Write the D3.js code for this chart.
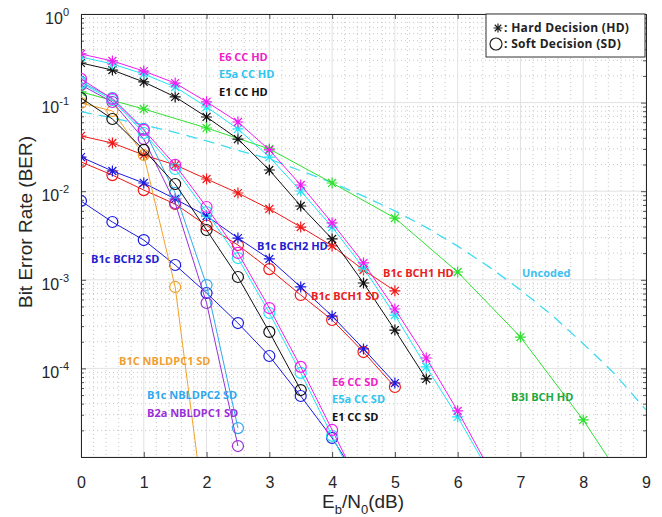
<!DOCTYPE html>
<html>
<head>
<meta charset="utf-8">
<script src="https://cdn.jsdelivr.net/npm/d3@7"></script>
<style>
  body { margin: 0; background: #fff; }
  svg { display: block; }
</style>
</head>
<body>
<div id="chart"></div>
<script>
// BER values (Eb/N0 in dB on x)
// last point of some series lies below 1e-5: it only gives the line its tail
const xE6HD = [0, 0.5, 1, 1.5, 2, 2.5, 3, 3.5, 4, 4.5, 5, 5.5, 6, 6.5];
const berE6HD = [0.354, 0.295, 0.227, 0.166, 0.102, 0.0604, 0.0292, 0.01175, 0.00438, 0.00155, 4.68e-4, 1.31e-4, 3.31e-5, 7.4e-6];

const xE5aHD = [0, 0.5, 1, 1.5, 2, 2.5, 3, 3.5, 4, 4.5, 5, 5.5, 6, 6.5];
const berE5aHD = [0.327, 0.273, 0.210, 0.150, 0.0892, 0.0504, 0.0243, 0.01005, 0.00394, 0.00136, 4.0e-4, 1.04e-4, 2.83e-5, 6.8e-6];

const xE1HD = [0, 0.5, 1, 1.5, 2, 2.5, 3, 3.5, 4, 4.5, 5, 5.5];
const berE1HD = [0.280, 0.233, 0.171, 0.116, 0.0688, 0.0388, 0.01735, 0.00681, 0.00289, 9.2e-4, 2.71e-4, 7.6e-5];

const xB3I = [0, 1, 2, 3, 4, 5, 6, 7, 8, 9];
const berB3I = [0.132, 0.0847, 0.0517, 0.0300, 0.01238, 0.00498, 0.001225, 2.26e-4, 2.62e-5, 2.2e-6];

const xUncoded = [0, 0.5, 1, 1.5, 2, 2.5, 3, 3.5, 4, 4.5, 5, 5.5, 6, 6.5, 7, 7.5, 8, 8.5, 9];
const berUncoded = [0.079, 0.067, 0.056, 0.046, 0.037, 0.029, 0.023, 0.017, 0.0125, 0.0088, 0.006, 0.0039, 0.0024, 0.0014, 7.7e-4, 4.0e-4, 1.9e-4, 8.7e-5, 3.4e-5];

const xBCH1HD = [0, 0.5, 1, 1.5, 2, 2.5, 3, 3.5, 4, 4.5, 5];
const berBCH1HD = [0.0420, 0.0350, 0.0256, 0.0198, 0.01373, 0.00954, 0.0063, 0.00394, 0.00241, 0.00129, 7.5e-4];

const xBCH1SD = [0, 0.5, 1, 1.5, 2, 2.5, 3, 3.5, 4, 4.5, 5];
const berBCH1SD = [0.0214, 0.0152, 0.0103, 0.00717, 0.0041, 0.00247, 0.00132, 6.74e-4, 3.52e-4, 1.53e-4, 6.17e-5];

const xBCH2HD = [0, 0.5, 1, 1.5, 2, 2.5, 3, 3.5, 4, 4.5, 5];
const berBCH2HD = [0.0243, 0.0169, 0.01238, 0.00817, 0.00525, 0.00296, 0.00172, 8.3e-4, 3.9e-4, 1.66e-4, 6.84e-5];

const xBCH2SD = [0, 0.5, 1, 1.5, 2, 2.5, 3, 3.5, 4, 4.5];
const berBCH2SD = [0.00775, 0.00449, 0.00281, 0.00147, 7.1e-4, 3.25e-4, 1.38e-4, 4.88e-5, 1.64e-5, 4.5e-6];

const xB1CNB1 = [0, 0.5, 1, 1.5, 2];
const berB1CNB1 = [0.099, 0.0804, 0.0256, 8.3e-4, 1.5e-6];

const xB1cNB2 = [0, 0.5, 1, 1.5, 2, 2.5];
const berB1cNB2 = [0.171, 0.1127, 0.0504, 0.00954, 8.73e-4, 2.12e-5];

const xB2aNB1 = [0, 0.5, 1, 1.5, 2, 2.5];
const berB2aNB1 = [0.158, 0.1016, 0.0388, 0.00736, 5.47e-4, 1.33e-5];

const xE6SD = [0, 0.5, 1, 1.5, 2, 2.5, 3, 3.5, 4, 4.5];
const berE6SD = [0.185, 0.110, 0.0491, 0.0198, 0.00663, 0.00201, 4.8e-4, 1.04e-4, 2.02e-5, 3.9e-6];

const xE5aSD = [0, 0.5, 1, 1.5, 2, 2.5, 3, 3.5, 4, 4.5];
const berE5aSD = [0.166, 0.107, 0.0454, 0.0178, 0.00582, 0.00176, 4.22e-4, 8.9e-5, 1.73e-5, 3.3e-6];

const xE1SD = [0, 0.5, 1, 1.5, 2, 2.5, 3, 3.5];
const berE1SD = [0.1127, 0.0653, 0.0292, 0.01206, 0.00365, 0.001076, 2.58e-4, 5.7e-5];

const xTicks = [0, 1, 2, 3, 4, 5, 6, 7, 8, 9];
const yTickExps = [0, -1, -2, -3, -4, -5];
const yLabelExps = [0, -1, -2, -3, -4];

// settings for the chart
const width = 662;
const height = 517;
const plot = { left: 81, right: 646, top: 14, bottom: 457 };

const axisColor = "#262626";
const fontMain = "Arial, 'Liberation Sans', sans-serif";
const fontLabel = "'Open Sans', sans-serif";

// series: data arrays + how they look (drawn in this order)
const series = [
    { x: xUncoded, y: berUncoded, color: "#3fdcf0", marker: "none", dash: "11,7" },
    { x: xB3I, y: berB3I, color: "#2ee02e", marker: "star" },
    { x: xBCH1HD, y: berBCH1HD, color: "#f01818", marker: "star" },
    { x: xBCH1SD, y: berBCH1SD, color: "#f01818", marker: "circle" },
    { x: xBCH2HD, y: berBCH2HD, color: "#1a1ae0", marker: "star" },
    { x: xBCH2SD, y: berBCH2SD, color: "#1a1ae0", marker: "circle" },
    { x: xB1CNB1, y: berB1CNB1, color: "#f2a22a", marker: "circle" },
    { x: xB1cNB2, y: berB1cNB2, color: "#2fa8ee", marker: "circle" },
    { x: xB2aNB1, y: berB2aNB1, color: "#9a30d8", marker: "circle" },
    { x: xE1SD, y: berE1SD, color: "#111111", marker: "circle" },
    { x: xE5aSD, y: berE5aSD, color: "#22e4f4", marker: "circle" },
    { x: xE6SD, y: berE6SD, color: "#f01cf0", marker: "circle" },
    { x: xE1HD, y: berE1HD, color: "#111111", marker: "star" },
    { x: xE5aHD, y: berE5aHD, color: "#22e4f4", marker: "star" },
    { x: xE6HD, y: berE6HD, color: "#f01cf0", marker: "star" }
];

// curve labels [text, colour, left x, baseline y]
const labels = [
    ["E6 CC HD", "#f020c8", 219, 61],
    ["E5a CC HD", "#30c4f0", 219, 78],
    ["E1 CC HD", "#111111", 219, 96],
    ["B1c BCH2 HD", "#2020d0", 257, 250],
    ["B1c BCH1 HD", "#e82020", 383, 277],
    ["Uncoded", "#40c0f0", 522, 277],
    ["B1c BCH1 SD", "#e82020", 311, 300],
    ["B1c BCH2 SD", "#2020d0", 91, 263],
    ["B3I BCH HD", "#20a840", 511, 401],
    ["B1C NBLDPC1 SD", "#f0a030", 119, 365],
    ["E6 CC SD", "#f020c8", 332, 386],
    ["B1c NBLDPC2 SD", "#30a8ee", 147, 399],
    ["E5a CC SD", "#30c4f0", 332, 403],
    ["B2a NBLDPC1 SD", "#9a30d8", 147, 417],
    ["E1 CC SD", "#111111", 332, 421]
];

const svg = d3.select("#chart")
    .append("svg")
    .attr("width", width)
    .attr("height", height);

svg.append("rect")
    .attr("width", width)
    .attr("height", height)
    .attr("fill", "#fff");

const xScale = d3.scaleLinear()
    .domain([0, 9])
    .range([plot.left, plot.right]);

const yScale = d3.scaleLog()
    .domain([1e-5, 1])
    .range([plot.bottom, plot.top]);

// grid: minor first (dotted), then major (solid)
const gridGroup = svg.append("g");

const xMinor = d3.range(0, 9.001, 0.2).filter(v => Math.abs(v - Math.round(v)) > 1e-6);
gridGroup.selectAll(".xminor")
    .data(xMinor)
    .enter()
    .append("line")
    .attr("x1", d => xScale(d))
    .attr("x2", d => xScale(d))
    .attr("y1", plot.top)
    .attr("y2", plot.bottom)
    .attr("stroke", "#c8c8c8")
    .attr("stroke-width", 1)
    .attr("stroke-dasharray", "1,3");

const yMinor = [];
for (let e = -5; e < 0; e++) {
    for (let k = 2; k <= 9; k++) yMinor.push(k * Math.pow(10, e));
}
gridGroup.selectAll(".yminor")
    .data(yMinor)
    .enter()
    .append("line")
    .attr("x1", plot.left)
    .attr("x2", plot.right)
    .attr("y1", d => yScale(d))
    .attr("y2", d => yScale(d))
    .attr("stroke", "#c8c8c8")
    .attr("stroke-width", 1)
    .attr("stroke-dasharray", "1,3");

gridGroup.selectAll(".xmajor")
    .data(xTicks)
    .enter()
    .append("line")
    .attr("x1", d => xScale(d))
    .attr("x2", d => xScale(d))
    .attr("y1", plot.top)
    .attr("y2", plot.bottom)
    .attr("stroke", "#e2e2e2")
    .attr("stroke-width", 1);

gridGroup.selectAll(".ymajor")
    .data(yTickExps)
    .enter()
    .append("line")
    .attr("x1", plot.left)
    .attr("x2", plot.right)
    .attr("y1", d => yScale(Math.pow(10, d)))
    .attr("y2", d => yScale(Math.pow(10, d)))
    .attr("stroke", "#e2e2e2")
    .attr("stroke-width", 1);

// axes: ticks inside, mirrored on top and right
const bottomAxis = d3.axisBottom(xScale).tickValues(xTicks).tickSizeInner(-5).tickSizeOuter(0).tickFormat(d3.format("d"));
const topAxis = d3.axisTop(xScale).tickValues(xTicks).tickSizeInner(-5).tickSizeOuter(0).tickFormat("");
const yMajorVals = yTickExps.map(e => Math.pow(10, e));
const leftAxis = d3.axisLeft(yScale).tickValues(yMajorVals).tickSizeInner(-5).tickSizeOuter(0).tickFormat("");
const rightAxis = d3.axisRight(yScale).tickValues(yMajorVals).tickSizeInner(-5).tickSizeOuter(0).tickFormat("");
const leftMinor = d3.axisLeft(yScale).tickValues(yMinor).tickSizeInner(-3).tickSizeOuter(0).tickFormat("");
const rightMinor = d3.axisRight(yScale).tickValues(yMinor).tickSizeInner(-3).tickSizeOuter(0).tickFormat("");

function styleAxis(g) {
    g.select(".domain").attr("stroke", axisColor).attr("stroke-width", 1);
    g.selectAll(".tick line").attr("stroke", axisColor).attr("stroke-width", 0.8);
}

const xAxisG = svg.append("g")
    .attr("transform", `translate(0, ${plot.bottom})`)
    .call(bottomAxis)
    .call(styleAxis);
xAxisG.selectAll(".tick text")
    .attr("y", 20)
    .attr("font-family", fontMain)
    .attr("font-size", 16)
    .attr("fill", axisColor);

svg.append("g").attr("transform", `translate(0, ${plot.top})`).call(topAxis).call(styleAxis);
svg.append("g").attr("transform", `translate(${plot.left}, 0)`).call(leftAxis).call(styleAxis);
svg.append("g").attr("transform", `translate(${plot.right}, 0)`).call(rightAxis).call(styleAxis);
svg.append("g").attr("transform", `translate(${plot.left}, 0)`).call(leftMinor).call(styleAxis);
svg.append("g").attr("transform", `translate(${plot.right}, 0)`).call(rightMinor).call(styleAxis);

// y tick labels as 10 with a superscript exponent
const yLabels = svg.append("g");
yLabelExps.forEach(e => {
    const t = yLabels.append("text")
        .attr("x", 69)
        .attr("y", yScale(Math.pow(10, e)) + 10)
        .attr("text-anchor", "end")
        .attr("font-family", fontMain)
        .attr("font-size", 16)
        .attr("fill", axisColor);
    t.append("tspan").text("10");
    t.append("tspan")
        .attr("font-size", 11)
        .attr("dy", -8)
        .text(e === 0 ? "0" : "-" + Math.abs(e));
});

// axis titles
const xTitle = svg.append("text")
    .attr("x", 363)
    .attr("y", 508)
    .attr("text-anchor", "middle")
    .attr("font-family", fontMain)
    .attr("font-size", 19)
    .attr("fill", axisColor);
xTitle.append("tspan").text("E");
xTitle.append("tspan").attr("font-size", 13).attr("dy", 6).text("b");
xTitle.append("tspan").attr("dy", -6).text("/N");
xTitle.append("tspan").attr("font-size", 13).attr("dy", 6).text("0");
xTitle.append("tspan").attr("dy", -6).text("(dB)");

svg.append("text")
    .attr("transform", "translate(32, 222) rotate(-90)")
    .attr("text-anchor", "middle")
    .attr("font-family", fontMain)
    .attr("font-size", 19)
    .attr("fill", axisColor)
    .text("Bit Error Rate (BER)");

// clip the curves to the plot area
svg.append("clipPath")
    .attr("id", "plotClip")
    .append("rect")
    .attr("x", plot.left)
    .attr("y", plot.top)
    .attr("width", plot.right - plot.left)
    .attr("height", plot.bottom - plot.top);

const curveGroup = svg.append("g").attr("clip-path", "url(#plotClip)");

const line = d3.line()
    .x(d => xScale(d[0]))
    .y(d => yScale(d[1]));

function starPath(r) {
    const q = r * 0.72;
    return `M${-r},0L${r},0M0,${-r}L0,${r}M${-q},${-q}L${q},${q}M${-q},${q}L${q},${-q}`;
}

series.forEach(s => {
    const pts = s.x.map((xv, i) => [xv, s.y[i]]);
    curveGroup.append("path")
        .datum(pts)
        .attr("d", line)
        .attr("fill", "none")
        .attr("stroke", s.color)
        .attr("stroke-width", s.dash ? 1.3 : 1)
        .attr("stroke-dasharray", s.dash || null);

    if (s.marker === "circle") {
        curveGroup.selectAll(null)
            .data(pts)
            .enter()
            .append("circle")
            .attr("cx", d => xScale(d[0]))
            .attr("cy", d => yScale(d[1]))
            .attr("r", 5.5)
            .attr("fill", "none")
            .attr("stroke", s.color)
            .attr("stroke-width", 1.2);
    } else if (s.marker === "star") {
        curveGroup.selectAll(null)
            .data(pts)
            .enter()
            .append("path")
            .attr("transform", d => `translate(${xScale(d[0])}, ${yScale(d[1])})`)
            .attr("d", starPath(5.5))
            .attr("fill", "none")
            .attr("stroke", s.color)
            .attr("stroke-width", 1.2);
    }
});

// curve name labels
svg.append("g")
    .selectAll("text")
    .data(labels)
    .enter()
    .append("text")
    .attr("x", d => d[2])
    .attr("y", d => d[3])
    .attr("font-family", fontLabel)
    .attr("font-size", 11)
    .attr("font-weight", "bold")
    .attr("fill", d => d[1])
    .text(d => d[0]);

// legend box (top right)
const legend = svg.append("g");
legend.append("rect")
    .attr("x", 486)
    .attr("y", plot.top)
    .attr("width", plot.right - 1 - 486)
    .attr("height", 43)
    .attr("fill", "#fff")
    .attr("stroke", "#333")
    .attr("stroke-width", 1);
legend.append("path")
    .attr("transform", "translate(498, 28)")
    .attr("d", starPath(4.5))
    .attr("stroke", "#222")
    .attr("stroke-width", 1.2);
legend.append("circle")
    .attr("cx", 496)
    .attr("cy", 44)
    .attr("r", 6)
    .attr("fill", "none")
    .attr("stroke", "#222")
    .attr("stroke-width", 1.2);
legend.append("text")
    .attr("x", 504)
    .attr("y", 32)
    .attr("font-family", fontLabel)
    .attr("font-size", 12)
    .attr("letter-spacing", 0.3)
    .attr("font-weight", "bold")
    .attr("fill", "#222")
    .text(": Hard Decision (HD)");
legend.append("text")
    .attr("x", 504)
    .attr("y", 48)
    .attr("font-family", fontLabel)
    .attr("font-size", 12)
    .attr("letter-spacing", 0.3)
    .attr("font-weight", "bold")
    .attr("fill", "#222")
    .text(": Soft Decision (SD)");
</script>
</body>
</html>
